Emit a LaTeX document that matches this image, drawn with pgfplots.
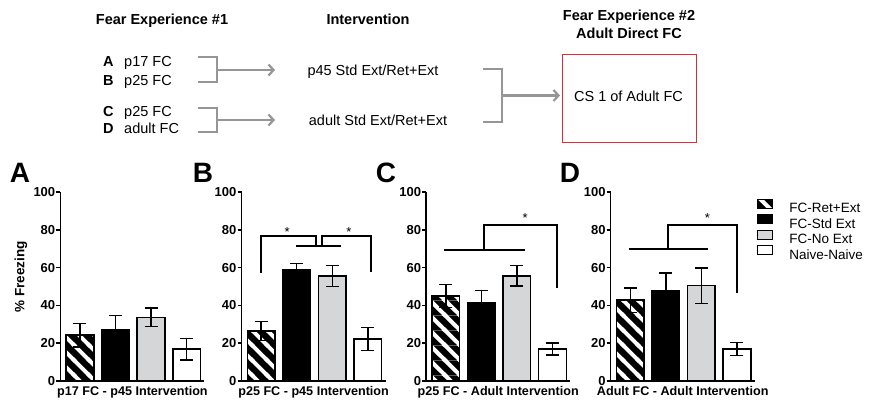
\documentclass[border=0pt]{standalone}
\usepackage{fontspec}
\setmainfont{Liberation Sans}
\usepackage{pgfplots}
\pgfplotsset{compat=1.18}
\usetikzlibrary{patterns, arrows.meta}

\definecolor{lgray}{RGB}{212,214,215}
\definecolor{agray}{RGB}{150,150,150}
\definecolor{boxred}{RGB}{232,38,43}

\newcommand{\fs}[1]{\fontsize{#1}{#1}\selectfont}

\pgfdeclarepatterninherentlycolored{hatchc}{\pgfpointorigin}{\pgfqpoint{14.85pt}{14.85pt}}{\pgfqpoint{14.85pt}{14.85pt}}{%
  \pgfsetfillcolor{black}%
  \pgfpathrectangle{\pgfpointorigin}{\pgfqpoint{14.85pt}{14.85pt}}%
  \pgfusepath{fill}%
  \pgfsetstrokecolor{white}%
  \pgfsetlinewidth{4pt}%
  \pgfpathmoveto{\pgfqpoint{-3pt}{17.85pt}}\pgfpathlineto{\pgfqpoint{17.85pt}{-3pt}}%
  \pgfpathmoveto{\pgfqpoint{-3pt}{3pt}}\pgfpathlineto{\pgfqpoint{3pt}{-3pt}}%
  \pgfpathmoveto{\pgfqpoint{11.85pt}{17.85pt}}\pgfpathlineto{\pgfqpoint{17.85pt}{11.85pt}}%
  \pgfusepath{stroke}}

\pgfplotsset{
  panel/.style={
    scale only axis, width=144pt, height=189pt,
    xmin=-0.55, xmax=3.5, ymin=0, ymax=100,
    axis x line=bottom, axis y line=left,
    axis line style={-, line width=1.5pt, black},
    ytick={0,20,...,100}, xtick=\empty,
    tick align=outside, major tick length=4pt,
    ytick style={line width=1.5pt, black},
    yticklabel style={font=\bfseries\fs{13}, inner sep=1pt},
    /pgf/number format/assume math mode=true,
    xlabel style={font=\bfseries\fs{12.6}, at={(axis description cs:0.5,0)}, anchor=north, inner sep=0pt, yshift=-5pt},
    clip=false,
  },
  pbar/.style={
    ybar, bar width=0.78, bar shift=0pt, draw=black, line width=1.5pt,
    error bars/y dir=both, error bars/y explicit,
    error bars/error bar style={line width=1.5pt, black},
    error bars/error mark options={rotate=90, mark size=6.5pt, line width=1.5pt, black},
    legend image code/.code={\draw[##1, line width=1.2pt] (0pt,0.3pt) rectangle (15pt,9.3pt);},
  },
  hatch/.style={pattern=hatchc},
  sig/.style={black, line width=2pt, line join=miter},
}

\begin{document}
\begin{tikzpicture}[x=1pt,y=1pt]
\useasboundingbox (0,0) rectangle (875,404);

% ---------- schematic ----------
\begin{scope}[every node/.style={inner sep=0pt}]
\node[anchor=base, font=\bfseries\fs{14.5}] at (162,379) {Fear Experience \#1};
\node[anchor=base, font=\bfseries\fs{14.5}] at (368,379) {Intervention};
\node[anchor=base, font=\bfseries\fs{14.5}] at (629,383.3) {Fear Experience \#2};
\node[anchor=base, font=\bfseries\fs{14.5}] at (629,365.7) {Adult Direct FC};

\node[anchor=base west, font=\bfseries\fs{14.5}] at (103,337.5) {A};
\node[anchor=base west, font=\fs{14.5}] at (124,337.5) {p17 FC};
\node[anchor=base west, font=\bfseries\fs{14.5}] at (103,318.7) {B};
\node[anchor=base west, font=\fs{14.5}] at (124,318.7) {p25 FC};
\node[anchor=base west, font=\bfseries\fs{14.5}] at (103,287.3) {C};
\node[anchor=base west, font=\fs{14.5}] at (124,287.3) {p25 FC};
\node[anchor=base west, font=\bfseries\fs{14.5}] at (103,270.7) {D};
\node[anchor=base west, font=\fs{14.5}] at (124,270.7) {adult FC};

\node[anchor=base, font=\fs{14.5}] at (373,328) {p45 Std Ext/Ret+Ext};
\node[anchor=base, font=\fs{14.5}] at (378,278) {adult Std Ext/Ret+Ext};
\node[anchor=base, font=\fs{14.5}] at (628.5,302.3) {CS 1 of Adult FC};
\end{scope}

\begin{scope}[agray, line width=2.2pt]
\draw (198,346.7) -- (217,346.7) -- (217,322.3) -- (198,322.3);
\draw[-{Straight Barb[length=5pt,width=11pt]}] (217,334) -- (275,334);
\draw (198,295.7) -- (217,295.7) -- (217,272.3) -- (198,272.3);
\draw[-{Straight Barb[length=5pt,width=11pt]}] (217,284) -- (275,284);
\draw (483.3,335) -- (501.7,335) -- (501.7,282.3) -- (483.3,282.3);
\draw[-{Straight Barb[length=5pt,width=11pt]}] (501.7,308.5) -- (560,308.5);
\end{scope}
\draw[boxred, line width=1.5pt] (562.3,349.7) rectangle (696.7,261.7);

% ---------- panel letters ----------
\node[font=\bfseries\fs{28}, inner sep=0pt] at (20,231) {A};
\node[font=\bfseries\fs{28}, inner sep=0pt] at (203,231) {B};
\node[font=\bfseries\fs{28}, inner sep=0pt] at (386,231) {C};
\node[font=\bfseries\fs{28}, inner sep=0pt] at (570,231) {D};

% ---------- Panel A ----------
\begin{axis}[panel, at={(60.4pt,23pt)}, anchor=south west,
  xlabel={p17 FC - p45 Intervention},
  ylabel={\% Freezing},
  ylabel style={font=\bfseries\fs{13.5}, at={(axis description cs:-0.274,0.55)}, anchor=center}]
\addplot[pbar, hatch] coordinates {(0,24.3) +- (0,6.2)};
\addplot[pbar, fill=black] coordinates {(1,27.3) +- (0,7.4)};
\addplot[pbar, fill=lgray] coordinates {(2,33.7) +- (0,4.8)};
\addplot[pbar, fill=white] coordinates {(3,16.8) +- (0,5.7)};
\end{axis}

% ---------- Panel B ----------
\begin{axis}[panel, at={(241.6pt,23pt)}, anchor=south west,
  xlabel={p25 FC - p45 Intervention}]
\addplot[pbar, hatch] coordinates {(0,26.5) +- (0,5.1)};
\addplot[pbar, fill=black] coordinates {(1,58.9) +- (0,3.2)};
\addplot[pbar, fill=lgray] coordinates {(2,55.6) +- (0,5.6)};
\addplot[pbar, fill=white] coordinates {(3,22.2) +- (0,6.0)};
\addplot[sig] coordinates {(0,57.3) (0,76.7) (1.53,76.7) (1.53,71.4)};
\addplot[sig] coordinates {(0.98,71.4) (2.24,71.4)};
\addplot[sig] coordinates {(1.70,71.4) (1.70,76.7) (3.08,76.7) (3.08,57.7)};
\node[anchor=base, font=\fs{13}, inner sep=0pt] at (axis cs:0.73,76.6) {*};
\node[anchor=base, font=\fs{13}, inner sep=0pt] at (axis cs:2.47,76.6) {*};
\end{axis}

% ---------- Panel C ----------
\begin{axis}[panel, at={(426.2pt,23pt)}, anchor=south west,
  xlabel={p25 FC - Adult Intervention}]
\addplot[pbar, hatch] coordinates {(0,45.0) +- (0,6.0)};
\addplot[pbar, fill=black] coordinates {(1,41.4) +- (0,6.6)};
\addplot[pbar, fill=lgray] coordinates {(2,55.6) +- (0,5.4)};
\addplot[pbar, fill=white] coordinates {(3,16.9) +- (0,3.2)};
\addplot[sig] coordinates {(-0.04,69.3) (2.23,69.3)};
\addplot[sig] coordinates {(1.08,69.3) (1.08,82.4) (3.12,82.4) (3.12,49.4)};
\node[anchor=base, font=\fs{13}, inner sep=0pt] at (axis cs:2.23,84.1) {*};
\end{axis}

% ---------- Panel D ----------
\begin{axis}[panel, at={(610.7pt,23pt)}, anchor=south west,
  xlabel={Adult FC - Adult Intervention},
  legend style={at={(1.016,0.965)}, anchor=north west, draw=none, fill=none,
    inner sep=0pt, font=\fs{13.5}, row sep=-1pt,
    nodes={inner sep=1pt},
    /tikz/every odd column/.append style={column sep=15pt}},
  legend cell align=left]
\addplot[pbar, hatch] coordinates {(0,42.8) +- (0,6.5)};
\addplot[pbar, fill=black] coordinates {(1,47.6) +- (0,9.6)};
\addplot[pbar, fill=lgray] coordinates {(2,50.4) +- (0,9.3)};
\addplot[pbar, fill=white] coordinates {(3,17.0) +- (0,3.4)};
\addplot[sig] coordinates {(-0.03,69.9) (2.2,69.9)};
\addplot[sig] coordinates {(1.06,69.9) (1.06,82.3) (3.0,82.3) (3.0,46.5)};
\node[anchor=base, font=\fs{13}, inner sep=0pt] at (axis cs:2.17,84.0) {*};
\legend{FC-Ret+Ext, FC-Std Ext, FC-No Ext, Naive-Naive}
\end{axis}
\end{tikzpicture}
\end{document}
